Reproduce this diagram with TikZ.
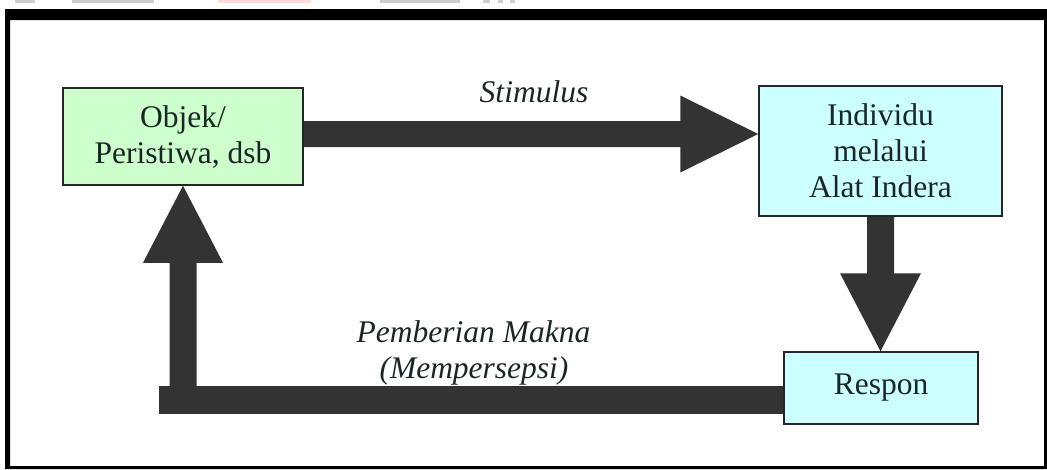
\documentclass[tikz,border=0pt]{standalone}
\usepackage{fontspec}
\newfontfamily\lserif{LiberationSerif}[Extension=.ttf,UprightFont=*-Regular,ItalicFont=*-Italic,BoldFont=*-Bold,BoldItalicFont=*-BoldItalic]
\usetikzlibrary{calc}
\definecolor{arr}{HTML}{333333}
\definecolor{gfill}{HTML}{CCFFCC}
\definecolor{cfill}{HTML}{CCFFFF}
\definecolor{txt}{HTML}{1A2626}
\begin{document}
\begin{tikzpicture}[x=1pt,y=-1pt,
  box/.style={draw=black!85,line width=1.5pt,inner sep=0pt,align=center,
    font=\lserif\fontsize{31.5}{36}\selectfont,text=txt},
  lbl/.style={inner sep=0pt,anchor=base,font=\lserif\fontsize{31.5}{36}\selectfont\itshape,text=txt},
  arrowfill/.style={fill=arr},
  faint/.style={fill=black!20}]
\useasboundingbox (0,0) rectangle (1047,469);
% faint remnants at top edge
\fill[faint] (15,0) rectangle (35,3);
\fill[faint] (72,0) rectangle (154,3);
\fill[red!15] (218,0) rectangle (311,3);
\fill[faint] (380,0) rectangle (460,3);
\fill[faint] (483,0) rectangle (490,3);
\fill[faint] (498,0) rectangle (503,3);
\fill[faint] (510,0) rectangle (515,3);
% frame
\fill[black,even odd rule] (5,9) rectangle (1047,469) (10,20) rectangle (1044,466);
% boxes
\node[box,fill=gfill,minimum width=240pt,minimum height=97pt] (obj) at (183,136.5) {Objek/\\Peristiwa, dsb};
\node[box,fill=cfill,minimum width=243pt,minimum height=130pt] (ind) at (880.5,151) {Individu\\melalui\\Alat Indera};
\node[box,fill=cfill,minimum width=194pt,minimum height=72pt] (resp) at (881,388) {Respon};
% helper coordinates
\coordinate (sy) at (0,134);
\coordinate (fy) at (0,400);
\coordinate (corner) at (159,400);
% Stimulus arrow
\coordinate (sA) at (obj.east|-sy);
\coordinate (sB) at (ind.west|-sy);
\fill[arrowfill] ($(sA)+(0,-13)$) -- ($(sB)+(-78,-13)$) -- ($(sB)+(-78,-38.5)$) -- (sB)
  -- ($(sB)+(-78,38.5)$) -- ($(sB)+(-78,13)$) -- ($(sA)+(0,13)$) -- cycle;
% down arrow
\coordinate (dA) at (ind.south);
\coordinate (dB) at (ind.south|-resp.north);
\fill[arrowfill] ($(dA)+(-13.5,0)$) -- ($(dB)+(-13.5,-78)$) -- ($(dB)+(-40.5,-78)$) -- (dB)
  -- ($(dB)+(40.5,-78)$) -- ($(dB)+(13.5,-78)$) -- ($(dA)+(13.5,0)$) -- cycle;
% feedback bar
\draw[arr,line width=28pt] (resp.west|-fy) -- (corner);
\coordinate (uA) at (obj.south|-fy);
\coordinate (uB) at (obj.south);
\fill[arrowfill] ($(uA)+(-13.5,0)$) -- ($(uB)+(-13.5,77)$) -- ($(uB)+(-40,77)$) -- (uB)
  -- ($(uB)+(40,77)$) -- ($(uB)+(13.5,77)$) -- ($(uA)+(13.5,0)$) -- cycle;
% labels
\node[lbl] (stim) at (534,102) {Stimulus};
\node[lbl] (pm) at (473.5,342) {Pemberian Makna};
\node[lbl] (mp) at (474,378) {(Mempersepsi)};
\end{tikzpicture}
\end{document}
